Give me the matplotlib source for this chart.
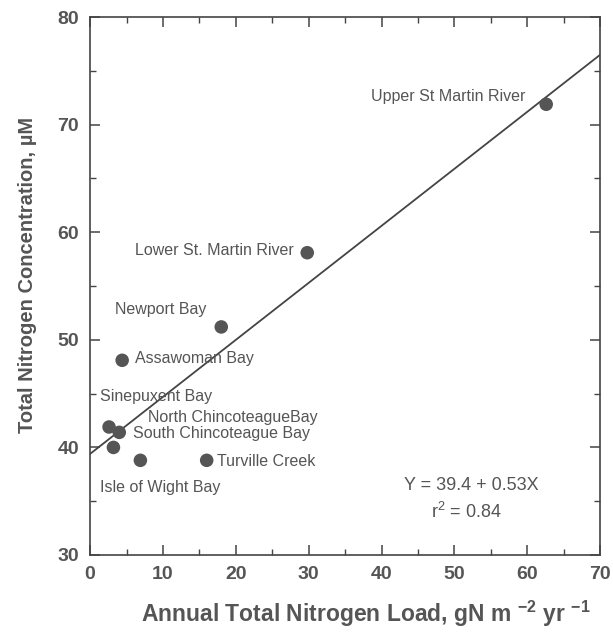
import matplotlib.pyplot as plt
import numpy as np

# ---- data ----
SITES = [
    "Upper St Martin River",
    "Lower St. Martin River",
    "Newport Bay",
    "Assawoman Bay",
    "Sinepuxent Bay",
    "North ChincoteagueBay",
    "South Chincoteague Bay",
    "Isle of Wight Bay",
    "Turville Creek",
]
N_LOAD = [62.6, 29.8, 18.0, 4.4, 2.6, 4.0, 3.2, 6.9, 16.0]
TN_CONC = [71.9, 58.1, 51.2, 48.1, 41.9, 41.4, 40.0, 38.8, 38.8]
FIT_A = 39.4
FIT_B = 0.53
R2 = 0.84

GRAY = "#555555"
plt.rcParams["font.family"] = ["Liberation Sans", "DejaVu Sans"]
plt.rcParams["mathtext.fontset"] = "custom"
plt.rcParams["mathtext.rm"] = "Liberation Sans:bold"

fig = plt.figure(figsize=(6.13, 6.35), dpi=100)
ax = fig.add_axes([0.147, 0.126, 0.832, 0.847])

ax.scatter(N_LOAD, TN_CONC, s=95, color=GRAY, edgecolors="none", zorder=3)

xfit = np.array([0, 70])
ax.plot(xfit, FIT_A + FIT_B * xfit, color="#444444", linewidth=1.3, zorder=2)

# label placement (data coords, alignment)
label_pos = {
    "Upper St Martin River": (59.7, 72.6, "right"),
    "Lower St. Martin River": (27.9, 58.3, "right"),
    "Newport Bay": (3.4, 52.8, "left"),
    "Assawoman Bay": (6.2, 48.3, "left"),
    "Sinepuxent Bay": (1.4, 44.7, "left"),
    "North ChincoteagueBay": (8.0, 42.8, "left"),
    "South Chincoteague Bay": (5.9, 41.3, "left"),
    "Isle of Wight Bay": (1.4, 36.3, "left"),
    "Turville Creek": (17.4, 38.7, "left"),
}
for name in SITES:
    lx, ly, ha = label_pos[name]
    ax.text(lx, ly, name, ha=ha, va="center", fontsize=11.5, color=GRAY)

ax.text(52.3, 36.5, f"Y = {FIT_A} + {FIT_B}X", ha="center", va="center",
        fontsize=13, color=GRAY)
ax.text(51.7, 34.0, "r$^{\\mathregular{2}}$ = " + f"{R2}", ha="center", va="center",
        fontsize=13, color=GRAY)

ax.set_xlim(0, 70)
ax.set_ylim(30, 80)
ax.set_xticks(range(0, 71, 10))
ax.set_yticks(range(30, 81, 10))
ax.set_xticks(range(5, 70, 10), minor=True)
ax.set_yticks(range(35, 80, 10), minor=True)
ax.tick_params(which="both", direction="in", top=True, right=True, color="#444444")
ax.tick_params(which="major", length=7, width=1.1, labelsize=14, labelcolor=GRAY, pad=8)
ax.tick_params(which="minor", length=4, width=1.0)
for lab in ax.get_xticklabels() + ax.get_yticklabels():
    lab.set_fontweight("bold")
for sp in ax.spines.values():
    sp.set_color("#444444")
    sp.set_linewidth(1.2)

ax.set_xlabel("Annual Total Nitrogen Load, gN m $^{\\mathregular{-2}}$ yr $^{\\mathregular{-1}}$",
              fontsize=16.5, fontweight="bold", color=GRAY)
ax.xaxis.set_label_coords(0.54, -0.082)
ax.set_ylabel("Total Nitrogen Concentration, \u00b5M", fontsize=14.5, fontweight="bold",
              color=GRAY)
ax.yaxis.set_label_coords(-0.105, 0.52)

fig.savefig("out.png", dpi=100)
